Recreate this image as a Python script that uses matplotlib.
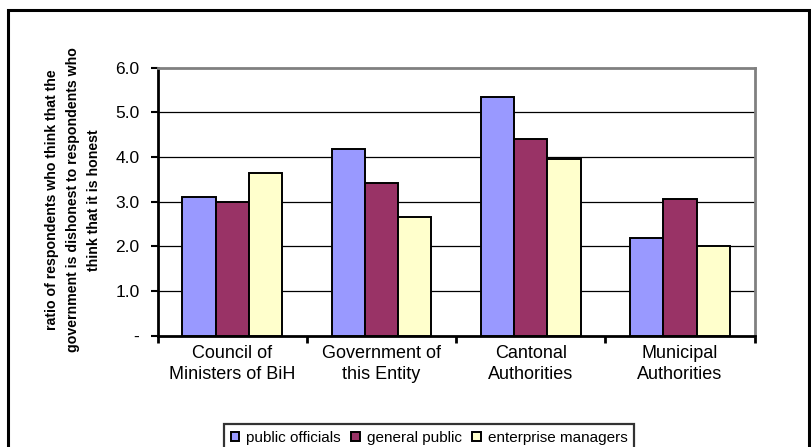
import matplotlib
matplotlib.use("Agg")
import matplotlib.pyplot as plt
import numpy as np
from matplotlib.patches import Rectangle

plt.rcParams['font.family'] = ['Liberation Sans', 'DejaVu Sans']

categories = ["Council of\nMinisters of BiH", "Government of\nthis Entity",
              "Cantonal\nAuthorities", "Municipal\nAuthorities"]
series_names = ["public officials", "general public", "enterprise managers"]
public_officials = [3.1, 4.18, 5.35, 2.19]
general_public = [3.0, 3.41, 4.4, 3.05]
enterprise_managers = [3.64, 2.65, 3.95, 2.0]
y_ticks = [0, 1, 2, 3, 4, 5, 6]
y_tick_labels = ["-", "1.0", "2.0", "3.0", "4.0", "5.0", "6.0"]

colors = ["#9999FF", "#993366", "#FFFFCC"]

W, H = 811, 447
fig = plt.figure(figsize=(W / 100, H / 100), dpi=100)

# outer chart frame (bottom edge runs off the image)
fig.add_artist(Rectangle((8 / W, -0.05), (809 - 8) / W, (H - 10) / H + 0.05,
                         transform=fig.transFigure, fill=False,
                         edgecolor="black", linewidth=2.2))

ax = fig.add_axes([157.5 / W, (H - 335.5) / H, (754.7 - 157.5) / W, (335.5 - 67.7) / H])

x = np.arange(len(categories))
bw = 0.223
for i, (vals, name) in enumerate(zip([public_officials, general_public, enterprise_managers], series_names)):
    ax.bar(x + (i - 1) * bw, vals, width=bw, color=colors[i], edgecolor="black",
           linewidth=1.4, label=name, zorder=3)

ax.set_xlim(-0.5, len(categories) - 0.5)
ax.set_ylim(0, 6)
ax.set_yticks(y_ticks)
ax.set_yticklabels(y_tick_labels, fontsize=12.5)
for yv in y_ticks[1:-1]:
    ax.axhline(yv, color="black", linewidth=0.9, zorder=1)

ax.set_xticks(np.arange(len(categories) + 1) - 0.5, minor=False)
ax.set_xticklabels([])
ax.set_xticks(x, minor=True)
ax.set_xticklabels(categories, minor=True, fontsize=13, linespacing=1.3)
ax.tick_params(axis="x", which="minor", length=0, pad=7)
ax.tick_params(axis="x", which="major", length=5, width=2, direction="out")
ax.tick_params(axis="y", length=5, width=1.5, direction="out", pad=8)

for side in ("left", "bottom"):
    ax.spines[side].set_linewidth(2)
    ax.spines[side].set_color("black")
for side in ("top", "right"):
    ax.spines[side].set_linewidth(2)
    ax.spines[side].set_color("#808080")

fig.text(73 / W, 1 - 200 / H,
         "ratio of respondents who think that the\ngovernment is dishonest to respondents who\nthink that it is honest",
         rotation=90, ha="center", va="center", fontsize=10.2, fontweight="bold",
         multialignment="center", linespacing=1.6)

leg = fig.legend(loc="upper center", bbox_to_anchor=(429 / W, 1 - 424 / H), ncol=3,
                 fontsize=11, frameon=True, fancybox=False, edgecolor="black",
                 handlelength=0.55, handleheight=0.55, handletextpad=0.45,
                 columnspacing=0.7, borderpad=0.45, borderaxespad=0)
leg.get_frame().set_linewidth(1.6)

fig.savefig("out.png", dpi=100)
